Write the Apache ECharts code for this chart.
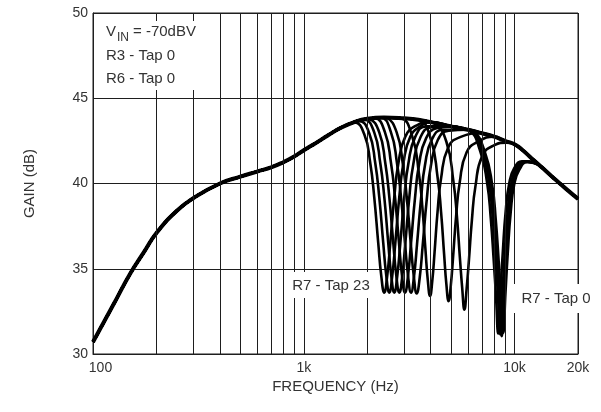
<!DOCTYPE html>
<html>
<head>
<meta charset="utf-8">
<script src="https://cdn.jsdelivr.net/npm/echarts@6/dist/echarts.min.js"></script>
<style>
  html, body { margin: 0; padding: 0; background: #fff; }
  #chart { width: 601px; height: 412px; }
</style>
</head>
<body>
<div id="chart"></div>
<script>
// axis ticks
const xTickLabels = [100, 1000, 10000, 20000];
const minorFreqs = [200, 300, 400, 500, 600, 700, 800, 900, 2000, 3000, 4000, 5000, 6000, 7000, 8000, 9000];

// common response (all taps overlap here)
const envFreq = [100, 125, 150, 175, 200, 250, 300, 400, 500, 600, 700, 800, 900, 1000, 1150, 1300, 1500, 1750, 2000, 2400,
  3000, 3500, 4000, 5000, 6000, 7000, 8000, 9000, 10000, 11000, 12000, 13500, 15000, 17500, 20000];
const envGain = [30.7, 32.9, 34.7, 36.0, 37.1, 38.4, 39.15, 40.0, 40.4, 40.7, 40.95, 41.25, 41.58, 41.95, 42.4, 42.82, 43.27, 43.62, 43.8, 43.87,
  43.82, 43.74, 43.6, 43.35, 43.15, 42.95, 42.75, 42.5, 42.3, 41.92, 41.5, 40.94, 40.43, 39.7, 39.1];

// notch part of each R7 tap curve, [Hz, dB]
const notch2409 = [[1733, 43.58], [1935, 42.9], [2067, 41.2], [2159, 39.2], [2256, 36.5], [2331, 34.6], [2409, 33.6],
  [2489, 34.6], [2573, 36.5], [2688, 39.2], [2808, 41.15], [3032, 42.75], [3420, 43.4]];
const notch2545 = [[1831, 43.67], [2044, 42.95], [2183, 41.2], [2281, 39.2], [2383, 36.5], [2463, 34.6], [2545, 33.6],
  [2630, 34.6], [2718, 36.5], [2839, 39.2], [2966, 41.15], [3203, 42.75], [3613, 43.4]];
const notch2688 = [[1934, 43.74], [2159, 43.0], [2306, 41.2], [2410, 39.2], [2517, 36.5], [2601, 34.6], [2688, 33.6],
  [2778, 34.6], [2871, 36.5], [2999, 39.2], [3133, 41.15], [3383, 42.75], [3816, 43.35]];
const notch2840 = [[2043, 43.79], [2281, 43.0], [2436, 41.2], [2546, 39.2], [2659, 36.5], [2748, 34.6], [2840, 33.6],
  [2935, 34.6], [3033, 36.5], [3168, 39.2], [3310, 41.15], [3574, 42.7], [4031, 43.3]];
const notch3022 = [[2174, 43.82], [2428, 43.0], [2593, 41.2], [2709, 39.2], [2830, 36.5], [2924, 34.6], [3022, 33.6],
  [3123, 34.6], [3227, 36.5], [3371, 39.15], [3522, 41.1], [3803, 42.65], [4290, 43.25]];
const notch3227 = [[2322, 43.84], [2592, 43.0], [2768, 41.2], [2893, 39.2], [3022, 36.5], [3123, 34.6], [3227, 33.6],
  [3335, 34.55], [3446, 36.45], [3600, 39.1], [3761, 41.1], [4061, 42.6], [4581, 43.15]];
const notch3435 = [[2471, 43.85], [2759, 43.0], [2947, 41.2], [3079, 39.2], [3217, 36.5], [3324, 34.6], [3435, 33.55],
  [3550, 34.5], [3668, 36.4], [3832, 39.05], [4004, 41.0], [4323, 42.55], [4876, 43.1]];
const notch3973 = [[2862, 43.83], [3263, 42.8], [3523, 40.52], [3660, 38.48], [3782, 36.05], [3876, 34.33], [3973, 33.4],
  [4072, 34.3], [4174, 35.98], [4313, 38.35], [4481, 40.3], [4838, 42.1], [5516, 42.72]];
const notch4866 = [[3505, 43.74], [3996, 42.65], [4315, 40.35], [4483, 38.3], [4632, 35.86], [4748, 34.1], [4866, 33.1],
  [4987, 34.05], [5112, 35.73], [5282, 38.08], [5488, 40.03], [5925, 41.83], [6756, 42.48]];
const notch5783 = [[4165, 43.56], [4749, 42.45], [5128, 40.12], [5328, 38.07], [5505, 35.63], [5642, 33.9], [5783, 32.6],
  [5927, 33.85], [6075, 35.51], [6277, 37.87], [6522, 39.83], [7042, 41.64], [8028, 42.25], [9155, 42.4]];
const notch8366 = [[6026, 43.14], [6870, 41.9], [7418, 40.0], [7708, 38.0], [7964, 35.5], [8163, 33.4], [8366, 31.2],
  [8574, 33.6], [8788, 35.9], [9081, 38.4], [9435, 40.0], [9966, 40.9], [10877, 41.3], [12133, 41.25]];
const notch8551 = [[6159, 43.12], [7022, 41.85], [7582, 40.0], [7878, 38.0], [8141, 35.5], [8343, 33.4], [8551, 31.15],
  [8764, 33.55], [8983, 35.9], [9282, 38.4], [9644, 40.0], [10186, 40.9], [11118, 41.3], [12402, 41.22]];
const notch8692 = [[6261, 43.1], [7138, 41.8], [7707, 39.95], [8008, 37.9], [8275, 35.4], [8481, 33.3], [8692, 31.05],
  [8909, 33.45], [9131, 35.8], [9435, 38.3], [9803, 39.95], [10354, 40.85], [11301, 41.3], [12606, 41.18]];
const notch8837 = [[6365, 43.08], [7257, 41.78], [7836, 39.9], [8141, 37.9], [8413, 35.4], [8622, 33.3], [8837, 31.25],
  [9057, 33.6], [9283, 35.9], [9593, 38.35], [9966, 39.95], [10527, 40.8], [11490, 41.25], [12816, 41.12]];

const notchCurves = [notch2409, notch2545, notch2688, notch2840, notch3022, notch3227, notch3435,
  notch3973, notch4866, notch5783, notch8366, notch8551, notch8692, notch8837];

const FONT = '"Liberation Sans", Arial, Helvetica, sans-serif';
const TEXT = '#333';
const LINE = '#1e1e1e';

const envelope = envFreq.map((f, i) => [f, envGain[i]]);

// a tap curve follows the common response outside its notch
function withEnvelope(notch) {
  const lo = notch[0][0] / 1.02;
  const hi = notch[notch.length - 1][0] * 1.1;
  return envelope.filter(p => p[0] < lo).concat(notch, envelope.filter(p => p[0] > hi));
}

const chart = echarts.init(document.getElementById('chart'), null, { renderer: 'canvas' });

const curveSeries = notchCurves.map(n => ({
  type: 'line',
  data: withEnvelope(n),
  symbol: 'none',
  smooth: 0.5,
  lineStyle: { color: '#000', width: 2.6 },
  emphasis: { disabled: true },
  silent: true,
  z: 3
}));

const option = {
  animation: false,
  backgroundColor: '#fff',
  textStyle: { fontFamily: FONT },
  grid: {
    left: 93, right: 23, top: 13, bottom: 58,
    show: true, borderColor: LINE, borderWidth: 1,
    containLabel: false, outerBoundsMode: 'none'
  },
  xAxis: {
    type: 'log',
    logBase: 10,
    min: 100,
    max: 20000,
    name: 'FREQUENCY (Hz)',
    nameLocation: 'middle',
    nameGap: 25,
    nameMoveOverlap: false,
    nameTextStyle: { color: TEXT, fontSize: 15, fontFamily: FONT },
    axisLine: { show: true, lineStyle: { color: LINE, width: 1 } },
    axisTick: { show: false },
    splitLine: { show: true, lineStyle: { color: LINE, width: 1 } },
    axisLabel: {
      color: TEXT,
      fontSize: 14,
      fontFamily: FONT,
      margin: 7,
      showMinLabel: true,
      showMaxLabel: true,
      formatter: v => {
        const r = Math.round(v);
        const s = r >= 1000 ? (r / 1000) + 'k' : String(r);
        return r === xTickLabels[0] ? '{lo|' + s + '}' : s;
      },
      rich: { lo: { color: TEXT, fontSize: 14, fontFamily: FONT, padding: [0, 0, 0, 15] } }
    }
  },
  yAxis: {
    type: 'value',
    min: 30,
    max: 50,
    interval: 5,
    name: 'GAIN (dB)',
    nameLocation: 'middle',
    nameGap: 56,
    nameMoveOverlap: false,
    nameTextStyle: { color: TEXT, fontSize: 15, fontFamily: FONT },
    axisLine: { show: true, lineStyle: { color: LINE, width: 1 } },
    axisTick: { show: false },
    splitLine: { show: true, lineStyle: { color: LINE, width: 1 } },
    axisLabel: { color: TEXT, fontSize: 14, fontFamily: FONT, margin: 5 }
  },
  series: [
    {
      type: 'line',
      data: envelope,
      symbol: 'none',
      smooth: 0.5,
      lineStyle: { color: '#000', width: 4 },
      emphasis: { disabled: true },
      silent: true,
      z: 3,
      markLine: {
        silent: true,
        symbol: ['none', 'none'],
        label: { show: false },
        emphasis: { disabled: true },
        lineStyle: { color: LINE, width: 1, type: 'solid' },
        data: minorFreqs.map(f => ({ xAxis: f }))
      }
    }
  ].concat(curveSeries),
  graphic: [
    { type: 'rect', silent: true, z: 100, shape: { x: 94, y: 21, width: 121, height: 69 }, style: { fill: '#fff' } },
    { type: 'text', silent: true, z: 101, x: 106, y: 32, style: { text: 'V', font: '15px ' + FONT, fill: TEXT, verticalAlign: 'middle' } },
    { type: 'text', silent: true, z: 101, x: 117, y: 38, style: { text: 'IN', font: '12px ' + FONT, fill: TEXT, verticalAlign: 'middle' } },
    { type: 'text', silent: true, z: 101, x: 133, y: 32, style: { text: '= -70dBV', font: '15px ' + FONT, fill: TEXT, verticalAlign: 'middle' } },
    { type: 'text', silent: true, z: 101, x: 106, y: 56, style: { text: 'R3 - Tap 0', font: '15px ' + FONT, fill: TEXT, verticalAlign: 'middle' } },
    { type: 'text', silent: true, z: 101, x: 106, y: 79, style: { text: 'R6 - Tap 0', font: '15px ' + FONT, fill: TEXT, verticalAlign: 'middle' } },

    { type: 'rect', silent: true, z: 100, shape: { x: 285, y: 272, width: 89, height: 26 }, style: { fill: '#fff' } },
    { type: 'text', silent: true, z: 101, x: 331, y: 286, style: { text: 'R7 - Tap 23', font: '15px ' + FONT, fill: TEXT, align: 'center', verticalAlign: 'middle' } },

    { type: 'rect', silent: true, z: 100, shape: { x: 512, y: 284, width: 84, height: 29 }, style: { fill: '#fff' } },
    { type: 'text', silent: true, z: 101, x: 556, y: 299, style: { text: 'R7 - Tap 0', font: '15px ' + FONT, fill: TEXT, align: 'center', verticalAlign: 'middle' } }
  ]
};

chart.setOption(option);
window.addEventListener('resize', chart.resize);
</script>
</body>
</html>
